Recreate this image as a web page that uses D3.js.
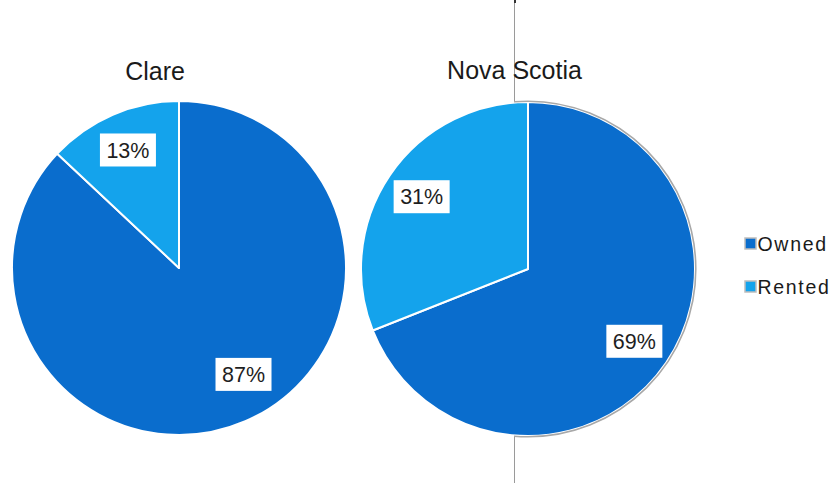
<!DOCTYPE html>
<html>
<head>
<meta charset="utf-8">
<script src="https://cdn.jsdelivr.net/npm/d3@7"></script>
<style>
  html, body { margin: 0; padding: 0; background: #fff; }
  svg { display: block; font-family: "Liberation Sans", Arial, sans-serif; }
</style>
</head>
<body>
<svg id="chart" width="830" height="483"></svg>
<script>
// Housing tenure shares, by region
const regions = ["Clare", "Nova Scotia"];
const categories = ["Owned", "Rented"];
const clareValues = [87, 13];
const novaScotiaValues = [69, 31];
const seriesValues = [clareValues, novaScotiaValues];
const sliceColors = ["#0a6dcd", "#14a3ec"];

const svg = d3.select("#chart");
const W = 830, H = 483;

// panel layout
const centers = [[179, 268], [528, 269]];
const radius = 167;
const titlePos = [[155, 80], [514.5, 79]];

const color = d3.scaleOrdinal().domain(categories).range(sliceColors);
const pie = d3.pie().sort(null).value(d => d.value);
const arc = d3.arc().innerRadius(0).outerRadius(radius);
const labelArc = d3.arc().innerRadius(radius * 0.77).outerRadius(radius * 0.77);

// label anchor: centroid of the slice, pulled toward its leading edge for very wide slices
function labelPoint(d) {
  const span = d.endAngle - d.startAngle;
  if (span > Math.PI * 1.5) {
    const a = d.startAngle + span * 0.475;
    const r = radius * 0.745;
    return [Math.sin(a) * r, -Math.cos(a) * r];
  }
  return labelArc.centroid(d);
}

// thin divider line behind the panels
svg.append("line")
  .attr("x1", 514.5).attr("x2", 514.5).attr("y1", 0).attr("y2", H)
  .attr("stroke", "#9a9a9a").attr("stroke-width", 1);
svg.append("line")
  .attr("x1", 515).attr("x2", 515).attr("y1", 0).attr("y2", 3)
  .attr("stroke", "#333").attr("stroke-width", 2);

// clip for the outline on the right-hand panel edge
svg.append("defs").append("clipPath").attr("id", "rightSide")
  .append("rect").attr("x", 514).attr("y", 0).attr("width", W - 514).attr("height", H);

regions.forEach((name, i) => {
  const data = categories.map((c, k) => ({ cat: c, value: seriesValues[i][k] }));
  const g = svg.append("g").attr("transform", `translate(${centers[i][0]},${centers[i][1]})`);

  svg.append("text")
    .attr("x", titlePos[i][0]).attr("y", titlePos[i][1])
    .attr("text-anchor", "middle")
    .attr("font-size", 25)
    .attr("fill", "#1a1a1a")
    .text(name);

  if (i === 1) {
    svg.append("circle")
      .attr("cx", centers[i][0]).attr("cy", centers[i][1]).attr("r", radius + 0.8)
      .attr("fill", "none").attr("stroke", "#a8a8a8").attr("stroke-width", 1.6)
      .attr("clip-path", "url(#rightSide)");
  }

  const arcs = pie(data);
  g.selectAll("path.slice").data(arcs).enter().append("path")
    .attr("class", "slice")
    .attr("d", arc)
    .attr("fill", d => color(d.data.cat))
    .attr("stroke", "#fff")
    .attr("stroke-width", 2)
    .attr("stroke-linejoin", "round");

  const labels = g.selectAll("g.lbl").data(arcs).enter().append("g")
    .attr("class", "lbl")
    .attr("transform", d => `translate(${labelPoint(d)})`);
  labels.append("rect")
    .attr("x", -28).attr("y", -16.5).attr("width", 56).attr("height", 33)
    .attr("fill", "#fff");
  labels.append("text")
    .attr("text-anchor", "middle")
    .attr("dy", "0.36em")
    .attr("font-size", 21.5)
    .attr("fill", "#1e1e1e")
    .text(d => d.data.value + "%");
});

// legend
const legend = svg.append("g").attr("transform", "translate(745,244)");
const rows = legend.selectAll("g").data(categories).enter().append("g")
  .attr("transform", (d, k) => `translate(0,${k * 43})`);
rows.append("rect")
  .attr("x", 0).attr("y", -6).attr("width", 11).attr("height", 11)
  .attr("fill", d => color(d)).attr("stroke", "#bdbdbd").attr("stroke-width", 1.5);
rows.append("text")
  .attr("x", 12.5).attr("y", 0).attr("dy", "0.36em")
  .attr("font-size", 19.5)
  .attr("letter-spacing", 1.7)
  .attr("fill", "#1a1a1a")
  .text(d => d);
</script>
</body>
</html>
